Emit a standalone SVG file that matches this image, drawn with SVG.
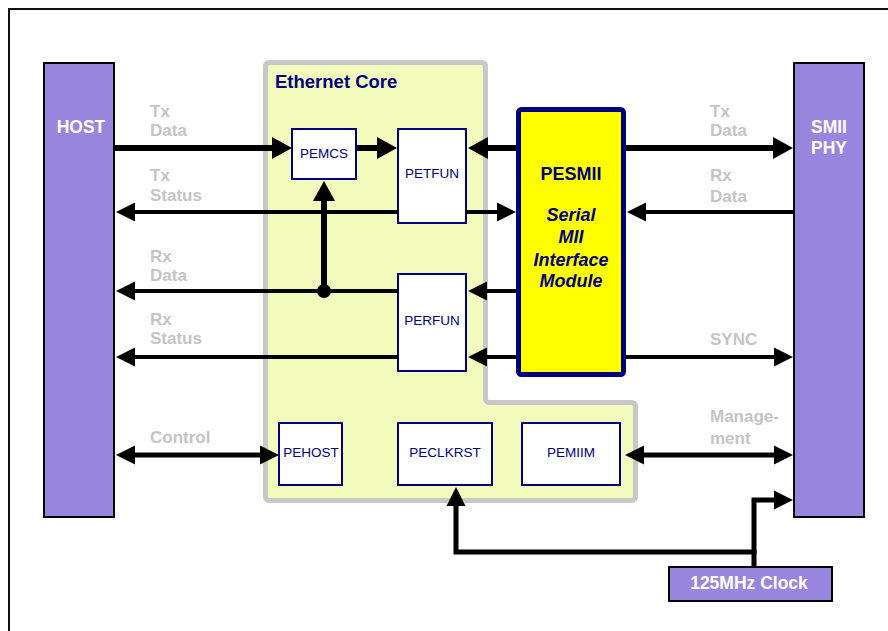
<svg xmlns="http://www.w3.org/2000/svg" width="888" height="631" viewBox="0 0 888 631">
<style>
.lbl{font-family:"Liberation Sans",Arial,sans-serif;font-weight:bold;font-size:17px;fill:#c4c4c4}
.blk{fill:#fff;stroke:#000080;stroke-width:2}
.bt{font-family:"Liberation Sans",Arial,sans-serif;font-size:13.5px;fill:#000080;text-anchor:middle}
.pur{fill:#9886de;stroke:#000;stroke-width:2}
.wt{font-family:"Liberation Sans",Arial,sans-serif;font-weight:bold;font-size:17.5px;fill:#fff;text-anchor:middle}
.w6{stroke:#000;stroke-width:6;fill:none}
.w4{stroke:#000;stroke-width:4;fill:none}
.w5{stroke:#000;stroke-width:5;fill:none}
.pt{font-family:"Liberation Sans",Arial,sans-serif;font-weight:bold;font-size:18px;fill:#000080;text-anchor:middle}
</style>
<defs>
<marker id="ab" viewBox="0 -11 20 22" markerWidth="20" markerHeight="22" refX="0" refY="0" markerUnits="userSpaceOnUse" orient="auto-start-reverse"><path d="M0,-11 L20,0 L0,11 Z" fill="#000"/></marker>
<marker id="as" viewBox="0 -10 19 20" markerWidth="19" markerHeight="20" refX="0" refY="0" markerUnits="userSpaceOnUse" orient="auto-start-reverse"><path d="M0,-9.5 L19,0 L0,9.5 Z" fill="#000"/></marker>
</defs>
<rect x="0" y="0" width="888" height="631" fill="#fff"/>
<rect id="frame" x="9" y="9" width="900" height="700" fill="none" stroke="#111" stroke-width="2"/>

<g id="ethernet-core">
<path d="M269.5,62.5 H481.5 Q485.5,62.5 485.5,66.5 V398.5 Q485.5,402.5 489.5,402.5 H631.5 Q635.5,402.5 635.5,406.5 V496.5 Q635.5,500.5 631.5,500.5 H269.5 Q265.5,500.5 265.5,496.5 V66.5 Q265.5,62.5 269.5,62.5 Z" fill="#f2fbbb" stroke="#c8c8c8" stroke-width="5"/>
<text x="275" y="88" style="font-family:'Liberation Sans',Arial,sans-serif;font-weight:bold;font-size:18.5px;fill:#000080">Ethernet Core</text>
</g>

<g id="host"><rect class="pur" x="44" y="63" width="70" height="454"/><text class="wt" x="81" y="133">HOST</text></g>
<g id="smii-phy"><rect class="pur" x="794" y="63" width="70" height="454"/><text class="wt" x="829" y="133">SMII</text><text class="wt" x="829" y="154">PHY</text></g>
<g id="clock"><rect class="pur" x="669" y="567" width="163" height="34"/><text class="wt" x="749" y="589">125MHz Clock</text></g>

<g id="pemcs"><rect class="blk" x="292" y="129" width="64" height="50"/><text class="bt" x="324" y="158">PEMCS</text></g>
<g id="petfun"><rect class="blk" x="398" y="129" width="68" height="94"/><text class="bt" x="432" y="178">PETFUN</text></g>
<g id="perfun"><rect class="blk" x="398" y="274" width="68" height="97"/><text class="bt" x="432" y="325">PERFUN</text></g>
<g id="pehost"><rect class="blk" x="279" y="423" width="63" height="62"/><text class="bt" x="311" y="457">PEHOST</text></g>
<g id="peclkrst"><rect class="blk" x="398" y="423" width="94" height="62"/><text class="bt" x="445" y="457">PECLKRST</text></g>
<g id="pemiim"><rect class="blk" x="522" y="423" width="98" height="62"/><text class="bt" x="571" y="457">PEMIIM</text></g>

<g id="pesmii">
<rect x="518.5" y="109.5" width="105" height="265" rx="3" fill="#ffff00" stroke="#000080" stroke-width="5"/>
<text class="pt" x="571" y="180">PESMII</text>
<text class="pt" x="571" y="221" font-style="italic" font-size="18.5">Serial</text>
<text class="pt" x="571" y="243" font-style="italic" font-size="18.5">MII</text>
<text class="pt" x="571" y="266" font-style="italic" font-size="18.5">Interface</text>
<text class="pt" x="571" y="287" font-style="italic" font-size="18.5">Module</text>
</g>

<g id="connectors">
<line class="w6" x1="115" y1="148" x2="272" y2="148" marker-end="url(#ab)"/>
<line class="w6" x1="357" y1="148" x2="377" y2="148" marker-end="url(#ab)"/>
<line class="w6" x1="516" y1="148" x2="488" y2="148" marker-end="url(#ab)"/>
<line class="w6" x1="626" y1="148" x2="773" y2="148" marker-end="url(#ab)"/>
<line class="w4" x1="398" y1="212" x2="135" y2="212" marker-end="url(#as)"/>
<line class="w4" x1="466" y1="212" x2="497" y2="212" marker-end="url(#as)"/>
<line class="w4" x1="794" y1="212" x2="646" y2="212" marker-end="url(#as)"/>
<line class="w6" x1="324" y1="291" x2="324" y2="201" marker-end="url(#ab)"/>
<line class="w4" x1="398" y1="291" x2="135" y2="291" marker-end="url(#as)"/>
<circle cx="324" cy="291" r="7" fill="#000"/>
<line class="w4" x1="516" y1="291" x2="487" y2="291" marker-end="url(#as)"/>
<line class="w4" x1="398" y1="357" x2="135" y2="357" marker-end="url(#as)"/>
<line class="w4" x1="516" y1="357" x2="487" y2="357" marker-end="url(#as)"/>
<line class="w4" x1="626" y1="357" x2="774" y2="357" marker-end="url(#as)"/>
<line class="w5" x1="135" y1="455" x2="260" y2="455" marker-start="url(#as)" marker-end="url(#as)"/>
<line class="w5" x1="644" y1="455" x2="774" y2="455" marker-start="url(#as)" marker-end="url(#as)"/>
<polyline class="w5" points="754,567 754,552 456,552 456,506" marker-end="url(#as)"/>
<polyline class="w5" points="754,554 754,500 774,500" marker-end="url(#as)"/>
</g>

<g id="labels">
<text class="lbl" x="150" y="117">Tx</text><text class="lbl" x="150" y="136">Data</text>
<text class="lbl" x="150" y="181">Tx</text><text class="lbl" x="150" y="201">Status</text>
<text class="lbl" x="150" y="262">Rx</text><text class="lbl" x="150" y="281">Data</text>
<text class="lbl" x="150" y="325">Rx</text><text class="lbl" x="150" y="344">Status</text>
<text class="lbl" x="150" y="443">Control</text>
<text class="lbl" x="710" y="117">Tx</text><text class="lbl" x="710" y="136">Data</text>
<text class="lbl" x="710" y="181">Rx</text><text class="lbl" x="710" y="202">Data</text>
<text class="lbl" x="710" y="345">SYNC</text>
<text class="lbl" x="710" y="422">Manage-</text><text class="lbl" x="710" y="444">ment</text>
</g>
</svg>
